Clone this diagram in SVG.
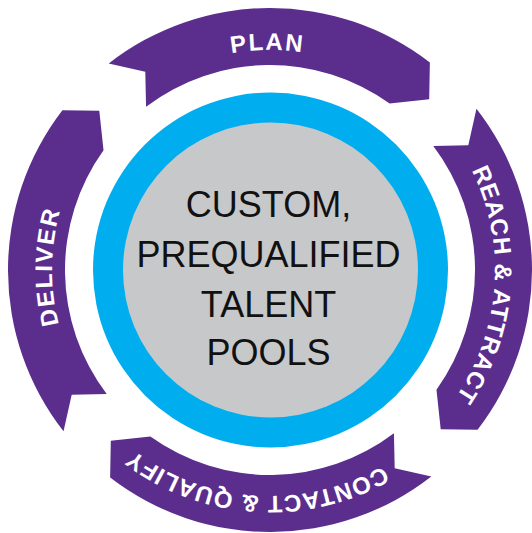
<svg xmlns="http://www.w3.org/2000/svg" xmlns:xlink="http://www.w3.org/1999/xlink" width="532" height="533" viewBox="0 0 532 533">
<style>
.band{fill:#5B2E8E}
.lbl{font-family:"Liberation Sans",Arial,sans-serif;font-weight:bold;font-size:24px;fill:#FFFFFF}
.core{font-family:"Liberation Sans",Arial,sans-serif;font-size:36px;fill:#111111;text-anchor:middle}
</style>
<defs>
<path id="seg" d="M108.7,63.54 A262,262 0 0 1 429.86,62.42 L429.2,99.3 L389.63,103.52 A205,205 0 0 0 146.06,106.71 L145.3,71.7 Z"/>
<path id="t220" d="M50,270 A220,220 0 0 1 490,270"/>
<path id="t225" d="M45,270 A225,225 0 0 1 495,270"/>
<path id="t226" d="M44,270 A226,226 0 0 1 496,270"/>
<path id="t218" d="M52,270 A218,218 0 0 1 488,270"/>
</defs>
<rect width="532" height="533" fill="#FFFFFF"/>
<g id="plan">
<use xlink:href="#seg" class="band"/>
<text class="lbl"><textPath xlink:href="#t220" startOffset="342.8" text-anchor="middle" letter-spacing="1.8">PLAN</textPath></text>
</g>
<g id="reach-attract" transform="rotate(90 270 270)">
<use xlink:href="#seg" class="band"/>
<text class="lbl"><textPath xlink:href="#t225" startOffset="369.3" text-anchor="middle" letter-spacing="0.8">REACH &amp; ATTRACT</textPath></text>
</g>
<g id="contact-qualify" transform="rotate(180 270 270)">
<use xlink:href="#seg" class="band"/>
<text class="lbl"><textPath xlink:href="#t226" startOffset="369.4" text-anchor="middle" letter-spacing="0.8">CONTACT &amp; QUALIFY</textPath></text>
</g>
<g id="deliver" transform="rotate(270 270 270)">
<use xlink:href="#seg" class="band"/>
<text class="lbl"><textPath xlink:href="#t218" startOffset="345.4" text-anchor="middle" letter-spacing="1.75">DELIVER</textPath></text>
</g>
<g id="center">
<circle cx="270.5" cy="270" r="177.5" fill="#00AEEF"/>
<circle cx="270.5" cy="270" r="147.5" fill="#C7C8CA"/>
<text class="core" x="268.5" y="217">CUSTOM,</text>
<text class="core" x="268.5" y="267">PREQUALIFIED</text>
<text class="core" x="268.5" y="316.5">TALENT</text>
<text class="core" x="268.5" y="365">POOLS</text>
</g>
</svg>
